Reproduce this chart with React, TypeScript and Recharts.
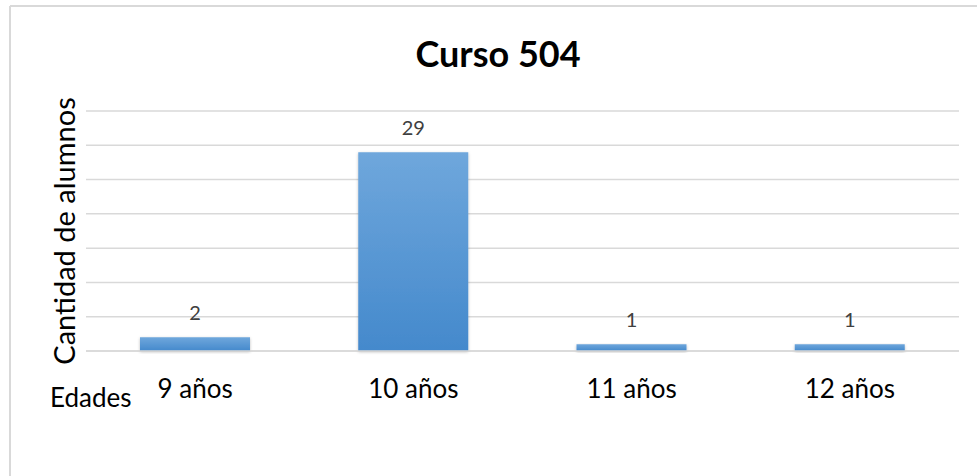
import React from "react";
import { BarChart, Bar, XAxis, YAxis, CartesianGrid, LabelList } from "recharts";

const categories = ["9 años", "10 años", "11 años", "12 años"];
const alumnos = [2, 29, 1, 1];
const yTicks = [0, 5, 10, 15, 20, 25, 30, 35];
const title = "Curso 504";
const yLabel = "Cantidad de alumnos";
const xLabel = "Edades";

const data = categories.map((c, i) => ({ edad: c, alumnos: alumnos[i] }));

const FONT = "Lato, 'Noto Sans', sans-serif";
const W = 977;
const H = 476;

const Tick = (props: any) => {
  const { x, payload } = props;
  return (
    <text x={x} y={388} textAnchor="middle" dominantBaseline="central" fontFamily={FONT} fontSize={26} fill="#000">
      {payload.value}
    </text>
  );
};

const ValueLabel = (props: any) => {
  const { x, y, width, value } = props;
  return (
    <text x={x + width / 2} y={y - 25} textAnchor="middle" dominantBaseline="central" fontFamily={FONT} fontSize={20} fill="#404040">
      {value}
    </text>
  );
};

export default function App() {
  return (
    <div style={{ position: "absolute", left: 0, top: 0, width: W, height: H, overflow: "hidden", background: "#fff" }}>
      <div style={{ position: "absolute", left: 0, top: 0 }}>
        <BarChart width={W} height={H} data={data} margin={{ top: 111, right: 18, bottom: 95, left: 86 }}>
          <defs>
            <linearGradient id="barGrad" x1="0" y1="0" x2="0" y2="1">
              <stop offset="0%" stopColor="#6FA7DC" />
              <stop offset="100%" stopColor="#4489CC" />
            </linearGradient>
            <filter id="shadow" x="-10%" y="-10%" width="120%" height="130%">
              <feDropShadow dx="0" dy="1" stdDeviation="1.5" floodColor="#000" floodOpacity="0.25" />
            </filter>
          </defs>
          <CartesianGrid vertical={false} stroke="#d9d9d9" strokeWidth={1.5} />
          <XAxis
            dataKey="edad"
            height={30}
            axisLine={{ stroke: "#d9d9d9", strokeWidth: 1.5 }}
            tickLine={false}
            tick={<Tick />}
            interval={0}
          />
          <YAxis hide domain={[0, 35]} ticks={yTicks} />
          <Bar dataKey="alumnos" fill="url(#barGrad)" barSize={110} isAnimationActive={false} style={{ filter: "url(#shadow)" }}>
            <LabelList dataKey="alumnos" content={<ValueLabel />} />
          </Bar>
        </BarChart>
      </div>
      <svg width={W} height={H} style={{ position: "absolute", left: 0, top: 0, pointerEvents: "none" }}>
        <line x1={10} y1={6} x2={W} y2={6} stroke="#d9d9d9" strokeWidth={2} />
        <line x1={10} y1={6} x2={10} y2={H} stroke="#d9d9d9" strokeWidth={2} />
        <text x={498} y={67} textAnchor="middle" fontFamily={FONT} fontSize={36} fontWeight="bold" fill="#000">
          {title}
        </text>
        <text
          x={63}
          y={231}
          transform="rotate(-90 63 231)"
          textAnchor="middle"
          dominantBaseline="central"
          fontFamily={FONT}
          fontSize={29}
          fill="#000"
        >
          {yLabel}
        </text>
        <text x={50} y={407} fontFamily={FONT} fontSize={26} fill="#000">
          {xLabel}
        </text>
      </svg>
    </div>
  );
}
